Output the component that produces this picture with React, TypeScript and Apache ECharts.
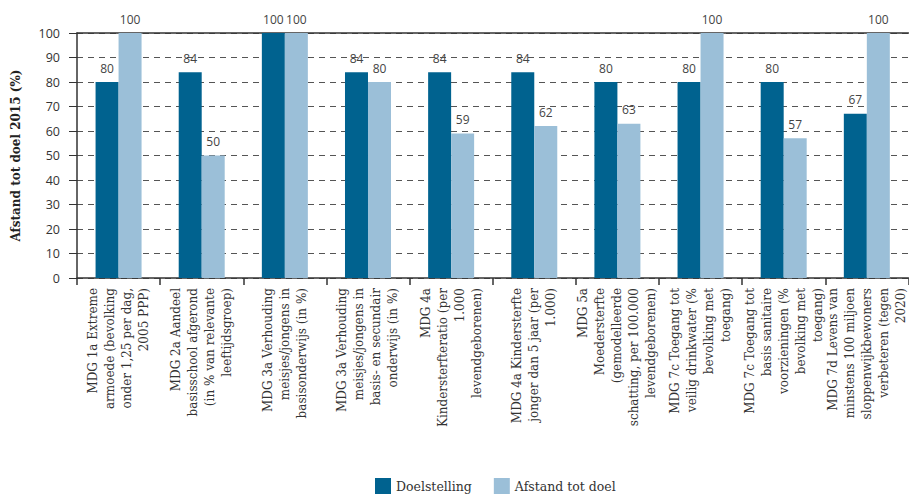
import React, { useEffect, useRef } from "react";
import * as echarts from "echarts";

const categories = [
  "MDG 1a Extreme\narmoede (bevolking\nonder 1,25 per dag,\n2005 PPP)",
  "MDG 2a Aandeel\nbasisschool afgerond\n(in % van relevante\nleeftijdsgroep)",
  "MDG 3a Verhouding\nmeisjes/jongens in\nbasisonderwijs (in %)",
  "MDG 3a Verhouding\nmeisjes/jongens in\nbasis- en secundair\nonderwijs (in %)",
  "MDG 4a\nKindersterfteratio (per\n1.000\nlevendgeborenen)",
  "MDG 4a Kindersterfte\njonger dan 5 jaar (per\n1.000)",
  "MDG 5a\nMoedersterfte\n(gemodelleerde\nschatting, per 100.000\nlevendgeborenen)",
  "MDG 7c Toegang tot\nveilig drinkwater (%\nbevolking met\ntoegang)",
  "MDG 7c Toegang tot\nbasis sanitaire\nvoorzieningen (%\nbevolking met\ntoegang)",
  "MDG 7d Levens van\nminstens 100 miljoen\nsloppenwijkbewoners\nverbeteren (tegen\n2020)",
];
const doelstelling = [80, 84, 100, 84, 84, 84, 80, 80, 80, 67];
const afstand = [100, 50, 100, 80, 59, 62, 63, 100, 57, 100];
const seriesNames = ["Doelstelling", "Afstand tot doel"];
const yAxisTitle = "Afstand tot doel 2015 (%)";

const DARK = "#00628f";
const LIGHT = "#9bbfd8";

export default function App() {
  const ref = useRef<HTMLDivElement>(null);
  useEffect(() => {
    if (!ref.current) return;
    const chart = echarts.init(ref.current, undefined, { renderer: "svg" });
    const labelStyle = {
      show: true,
      position: "top" as const,
      distance: 8,
      fontFamily: "Open Sans",
      fontSize: 12,
      color: "#444",
    };
    chart.setOption({
      animation: false,
      backgroundColor: "#fff",
      grid: { left: 77, top: 33, width: 838, height: 245, containLabel: false },
      legend: {
        bottom: 0,
        left: 370,
        itemWidth: 16,
        itemHeight: 16,
        itemGap: 22,
        icon: "rect",
        textStyle: { fontFamily: "DejaVu Serif", fontSize: 12.5, color: "#333" },
        data: seriesNames,
      },
      xAxis: [
        {
          type: "category",
          data: categories,
          position: "bottom",
          axisLine: { show: true, lineStyle: { color: "#333", width: 1.5 } },
          axisTick: { show: true, length: 7, lineStyle: { color: "#333", width: 1.5 } },
          axisLabel: {
            rotate: 90,
            interval: 0,
            margin: 10,
            fontFamily: "DejaVu Serif",
            fontSize: 12,
            lineHeight: 17,
            color: "#333",
          },
        },
        {
          type: "category",
          data: categories,
          position: "top",
          axisLine: { show: true, lineStyle: { color: "#333", width: 1.5 } },
          axisTick: { show: false },
          axisLabel: { show: false },
        },
      ],
      yAxis: {
        type: "value",
        min: 0,
        max: 100,
        interval: 10,
        name: yAxisTitle,
        nameLocation: "middle",
        nameGap: 55,
        nameTextStyle: {
          fontFamily: "DejaVu Serif",
          fontWeight: "bold",
          fontSize: 12,
          color: "#222",
        },
        axisLine: { show: true, lineStyle: { color: "#333", width: 1.5 } },
        axisTick: { show: true, length: 8, lineStyle: { color: "#333" } },
        axisLabel: {
          margin: 17,
          fontFamily: "Open Sans",
          fontSize: 12.5,
          color: "#333",
        },
        splitLine: {
          show: true,
          lineStyle: { color: "#555", type: [6, 5], width: 1 },
        },
      },
      series: [
        {
          name: seriesNames[0],
          type: "bar",
          data: doelstelling,
          barWidth: 23,
          barGap: "0%",
          itemStyle: { color: DARK },
          label: labelStyle,
        },
        {
          name: seriesNames[1],
          type: "bar",
          data: afstand,
          barWidth: 23,
          barGap: "0%",
          itemStyle: { color: LIGHT },
          label: labelStyle,
        },
      ],
    });
    return () => chart.dispose();
  }, []);
  return (
    <div
      ref={ref}
      style={{ position: "fixed", left: 0, top: 0, width: 909, height: 499 }}
    />
  );
}
